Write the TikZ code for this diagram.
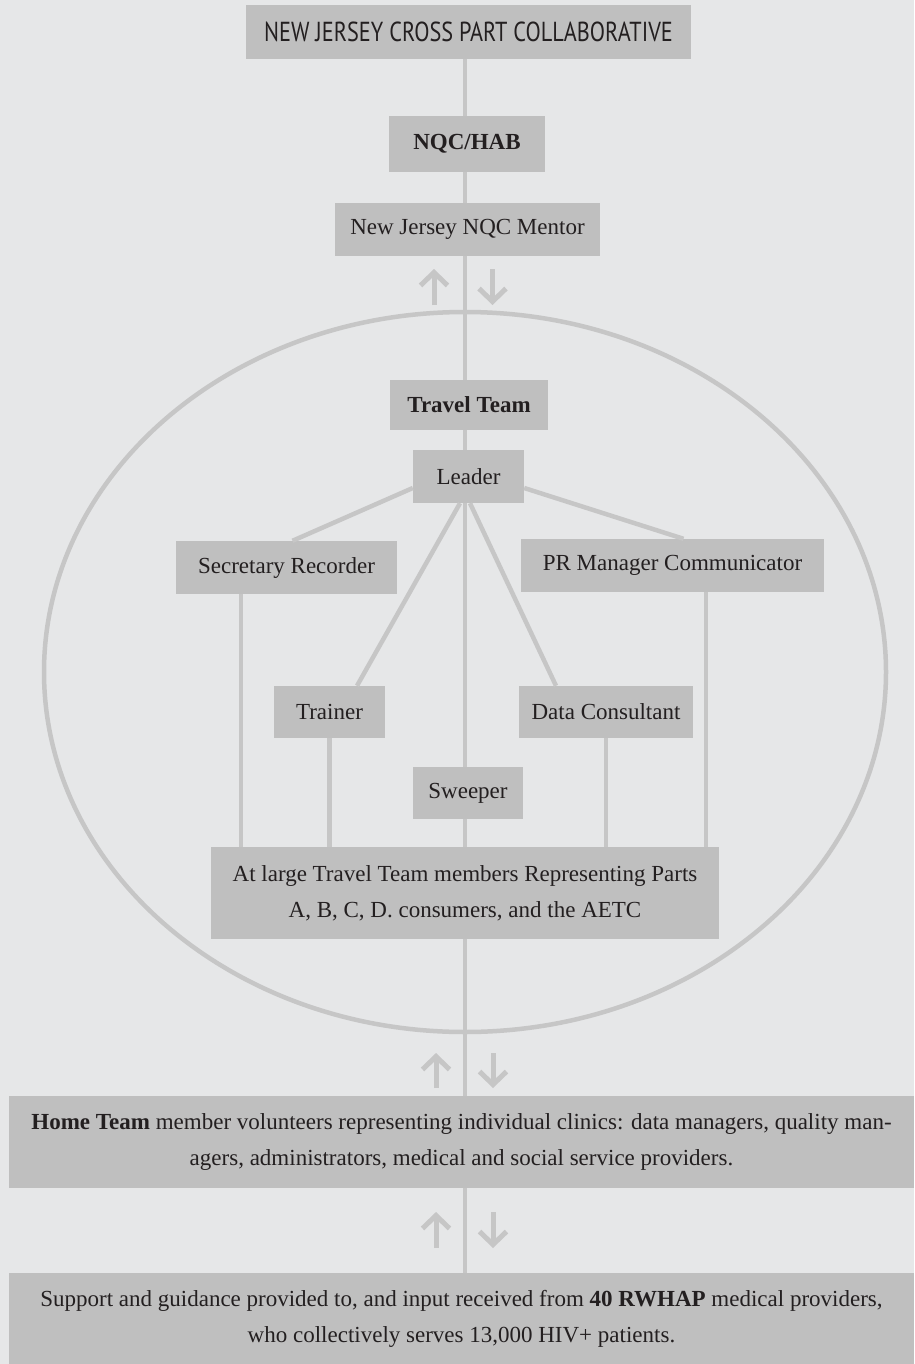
\documentclass[tikz,border=0pt]{standalone}
\usepackage{fontspec}
\setmainfont{Liberation Serif}
\newfontfamily\titlefont{PT Sans}
\usetikzlibrary{arrows.meta}
\definecolor{bgc}{HTML}{E6E7E8}
\definecolor{boxc}{HTML}{BFBFBF}
\definecolor{linec}{HTML}{C6C6C6}
\definecolor{txtc}{HTML}{231F20}
\begin{document}
\begin{tikzpicture}[x=1pt,y=-1pt,
  box/.style={fill=boxc, inner sep=0pt, text=txtc, align=center, font=\fontsize{23}{36}\selectfont},
  conn/.style={draw=linec, line width=4.5pt},
  updown/.style={draw=linec, line width=5pt, -{Straight Barb[length=13pt,width=27pt]}}
]
\fill[bgc] (0,0) rectangle (914,1364);
\useasboundingbox (0,0) rectangle (914,1364);
\coordinate (tx) at (465,0);
% ellipse (behind boxes)
\draw[linec, line width=4.5pt] (465,672) ellipse [x radius=421pt, y radius=360pt];
\node[box, minimum width=445pt, minimum height=54pt] (title) at (468.5,32)
  {\titlefont\fontsize{27.5}{27.5}\selectfont\scalebox{0.81}[1]{NEW JERSEY CROSS PART COLLABORATIVE}};
\node[box, minimum width=905pt, minimum height=91pt] (support) at (461.5,1318.5)
  {Support and guidance provided to, and input received from \textbf{40 RWHAP} medical providers,\\ who collectively serves 13,000 HIV+ patients.};
\path[conn] (title.south -| tx) -- (support.north -| tx);
\node[box, minimum width=156pt, minimum height=56pt] (nqc) at (467,144) {\textbf{NQC/HAB}};
\node[box, minimum width=265pt, minimum height=53pt] (mentor) at (467.5,229.5) {New Jersey NQC Mentor};
\node[box, minimum width=158pt, minimum height=50pt] (travel) at (469,405) {\textbf{Travel Team}};
\node[box, minimum width=111pt, minimum height=53pt] (leader) at (468.5,476.5) {Leader};
\node[box, minimum width=221pt, minimum height=53pt] (secr) at (286.5,567.5) {Secretary Recorder};
\node[box, minimum width=303pt, minimum height=53pt] (pr) at (672.5,565.5) {PR Manager Communicator};
\node[box, minimum width=111pt, minimum height=52pt] (trainer) at (329.5,712) {Trainer};
\node[box, minimum width=174pt, minimum height=52pt] (data) at (606,712) {Data Consultant};
\node[box, minimum width=508pt, minimum height=92pt] (atlarge) at (465,893)
  {At large Travel Team members Representing Parts\\ A, B, C, D. consumers, and the AETC};
\node[box, minimum width=905pt, minimum height=92pt] (home) at (461.5,1142)
  {\textbf{Home Team} member volunteers representing individual clinics: data managers, quality man-\\ agers, administrators, medical and social service providers.};
% connectors
\path[conn] ([yshift=-11.5pt]leader.west) -- ([xshift=6pt]secr.north);
\path[conn] ([yshift=-11.5pt]leader.east) -- ([xshift=11pt]pr.north);
\path[conn] ([xshift=-8.5pt]leader.south) -- ([xshift=27.5pt]trainer.north);
\path[conn] ([xshift=1.5pt]leader.south) -- ([xshift=-50pt]data.north);
\path[conn] ([xshift=-45.5pt]secr.south) -- ([xshift=-45.5pt]secr.south |- atlarge.north);
\path[conn] (trainer.south) -- (trainer.south |- atlarge.north);
\path[conn] (data.south) -- (data.south |- atlarge.north);
\path[conn] ([xshift=33.5pt]pr.south) -- ([xshift=33.5pt]pr.south |- atlarge.north);
\node[box, minimum width=110pt, minimum height=52pt] (sweeper) at (468,793) {Sweeper};
% two-way arrows
\coordinate (a1) at (434,305); \coordinate (a1e) at (434,269);
\coordinate (b1) at (492.5,269); \coordinate (b1e) at (492.5,305);
\coordinate (a2) at (436,1088); \coordinate (a2e) at (436,1053);
\coordinate (b2) at (493,1053); \coordinate (b2e) at (493,1088);
\coordinate (a3) at (436,1248); \coordinate (a3e) at (436,1212);
\coordinate (b3) at (493,1212); \coordinate (b3e) at (493,1248);
\draw[updown] (a1) -- (a1e); \draw[updown] (b1) -- (b1e);
\draw[updown] (a2) -- (a2e); \draw[updown] (b2) -- (b2e);
\draw[updown] (a3) -- (a3e); \draw[updown] (b3) -- (b3e);
\end{tikzpicture}
\end{document}
